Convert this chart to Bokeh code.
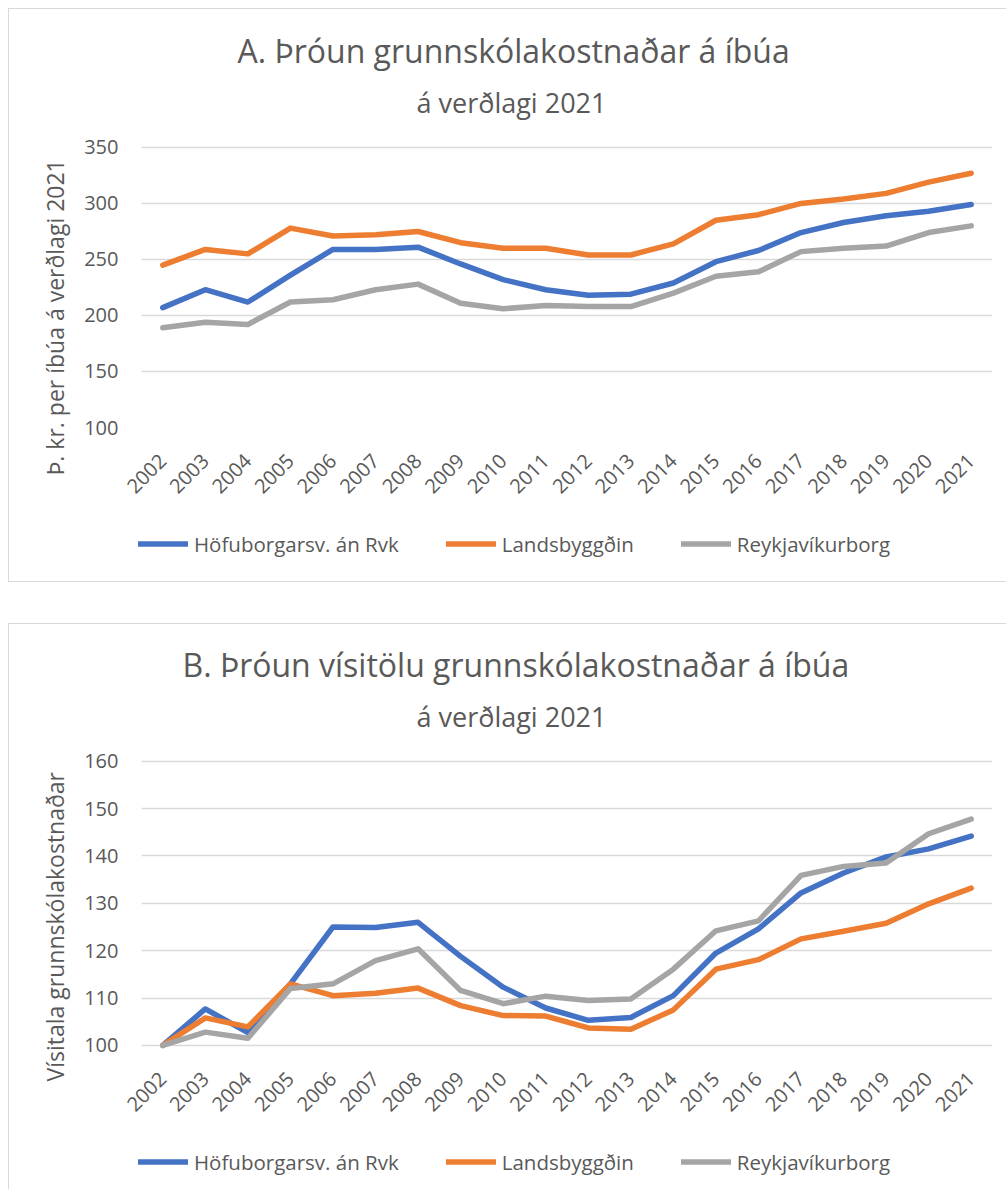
import math
from bokeh.plotting import figure
from bokeh.models import FactorRange, Range1d, FixedTicker, Legend, LegendItem, Title, Spacer
from bokeh.layouts import column
from bokeh.embed import file_html
from bokeh.resources import INLINE

years = [str(y) for y in range(2002, 2022)]
series_names = ["Höfuborgarsv. án Rvk", "Landsbyggðin", "Reykjavíkurborg"]
colors = ["#4472C4", "#ED7D31", "#A5A5A5"]

# Chart A: thousand kr per inhabitant, 2021 prices
a_hofuborg = [207, 223, 212, 236, 259, 259, 261, 246, 232, 223, 218, 219, 229, 248, 258, 274, 283, 289, 293, 299]
a_landsbyggd = [245, 259, 255, 278, 271, 272, 275, 265, 260, 260, 254, 254, 264, 285, 290, 300, 304, 309, 319, 327]
a_reykjavik = [189, 194, 192, 212, 214, 223, 228, 211, 206, 209, 208, 208, 220, 235, 239, 257, 260, 262, 274, 280]
a_ticks = [100, 150, 200, 250, 300, 350]

# Chart B: index, 2002 = 100
b_hofuborg = [100, 107.7, 102.7, 113.0, 125.0, 124.9, 126.0, 118.8, 112.3, 107.9, 105.3, 105.9, 110.5, 119.5, 124.6, 132.2, 136.4, 139.8, 141.5, 144.2]
b_landsbyggd = [100, 105.8, 103.9, 113.0, 110.5, 111.0, 112.1, 108.4, 106.3, 106.2, 103.7, 103.4, 107.5, 116.1, 118.1, 122.5, 124.1, 125.8, 129.9, 133.2]
b_reykjavik = [100, 102.8, 101.5, 112.0, 113.0, 117.9, 120.4, 111.6, 108.8, 110.4, 109.5, 109.8, 116.1, 124.2, 126.3, 135.9, 137.8, 138.5, 144.7, 147.8]
b_ticks = [100, 110, 120, 130, 140, 150, 160]

FONT = "Open Sans"
TXT = "#595959"
GRID = "#D9D9D9"
BORDER = "1px solid #D9D9D9"
LINE_W = 5.5


def make_chart(title, subtitle, ylabel, series, y0, y1, ticks, height,
               mb_top, mb_bottom, title_offset, sub_offset, x_standoff, ylabel_offset):
    p = figure(width=998, height=height,
               x_range=FactorRange(*years, range_padding=0),
               y_range=Range1d(y0, y1),
               output_backend="svg", toolbar_location=None,
               min_border_left=132, min_border_right=15,
               min_border_top=mb_top, min_border_bottom=mb_bottom,
               background_fill_color="white", border_fill_color="white")
    p.frame_align = False
    p.outline_line_color = None
    p.styles = {"border-top": BORDER, "border-left": BORDER}

    # titles (subtitle first: it sits closest to the frame)
    p.add_layout(Title(text=subtitle, align="left", offset=sub_offset,
                       text_font=FONT, text_font_size="27px",
                       text_font_style="normal", text_color=TXT, standoff=10), "above")
    p.add_layout(Title(text=title, align="left", offset=title_offset,
                       text_font=FONT, text_font_size="32px",
                       text_font_style="normal", text_color=TXT, standoff=10), "above")

    for vals, c in zip(series, colors):
        p.line(years, vals, line_color=c, line_width=LINE_W,
               line_cap="round", line_join="round")

    # axes
    p.xaxis.major_label_orientation = math.pi / 4
    p.xaxis.major_label_text_font = FONT
    p.xaxis.major_label_text_font_size = "20px"
    p.xaxis.major_label_text_color = TXT
    p.xaxis.major_tick_line_color = None
    p.xaxis.major_tick_out = 0
    p.xaxis.major_tick_in = 0
    p.xaxis.minor_tick_line_color = None
    p.xaxis.axis_line_color = None
    p.xaxis.major_label_standoff = x_standoff

    p.yaxis.ticker = FixedTicker(ticks=ticks)
    p.yaxis.major_label_text_font = FONT
    p.yaxis.major_label_text_font_size = "20px"
    p.yaxis.major_label_text_color = TXT
    p.yaxis.major_tick_line_color = None
    p.yaxis.major_tick_out = 0
    p.yaxis.major_tick_in = 0
    p.yaxis.minor_tick_line_color = None
    p.yaxis.axis_line_color = None
    p.yaxis.major_label_standoff = 23

    # y-axis title, placed along the axis like the original
    p.add_layout(Title(text=ylabel, align="left", offset=ylabel_offset,
                       text_font=FONT, text_font_size="23px",
                       text_font_style="normal", text_color=TXT, standoff=22), "left")

    p.xgrid.grid_line_color = None
    p.ygrid.ticker = FixedTicker(ticks=ticks)
    p.ygrid.grid_line_color = GRID
    p.ygrid.grid_line_width = 1.5
    return p


def make_legend_strip(height, legend_y, bottom_border=True):
    lf = figure(width=998, height=height, x_range=Range1d(0, 1), y_range=Range1d(0, 1),
                x_axis_type=None, y_axis_type=None,
                output_backend="svg", toolbar_location=None,
                min_border=0, min_border_left=0, min_border_right=0,
                min_border_top=0, min_border_bottom=0,
                background_fill_color="white", border_fill_color="white")
    lf.frame_align = False
    lf.outline_line_color = None
    styles = {"border-left": BORDER}
    if bottom_border:
        styles["border-bottom"] = BORDER
    lf.styles = styles
    items = []
    for n, c in zip(series_names, colors):
        # off-range stub renderer: only its legend glyph is visible
        r = lf.line(x=[-10, -9], y=[-10, -9], line_color=c, line_width=LINE_W, line_cap="round")
        items.append(LegendItem(label=n, renderers=[r]))
    legend = Legend(items=items, orientation="horizontal", location=(129, legend_y),
                    label_text_font=FONT, label_text_font_size="20.5px", label_text_color=TXT,
                    glyph_width=50, glyph_height=27, label_height=27, label_standoff=6,
                    spacing=47, padding=0, margin=0,
                    border_line_color=None, background_fill_alpha=0)
    lf.add_layout(legend, "center")
    return lf


pA = make_chart("A. Þróun grunnskólakostnaðar á íbúa", "á verðlagi 2021",
                "Þ. kr. per íbúa á verðlagi 2021",
                [a_hofuborg, a_landsbyggd, a_reykjavik], 100, 369.6, a_ticks,
                height=510, mb_top=116, mb_bottom=92, title_offset=96, sub_offset=275,
                x_standoff=30, ylabel_offset=-48)
lA = make_legend_strip(64, 24.5)

pB = make_chart("B. Þróun vísitölu grunnskólakostnaðar á íbúa", "á verðlagi 2021",
                "Vísitala grunnskólakostnaðar",
                [b_hofuborg, b_landsbyggd, b_reykjavik], 98.5, 164.6, b_ticks,
                height=502, mb_top=115, mb_bottom=74, title_offset=41, sub_offset=275,
                x_standoff=23, ylabel_offset=-29)
lB = make_legend_strip(64, 13.5, bottom_border=False)

layout = column(pA, lA, Spacer(height=41), pB, lB, margin=(8, 0, 0, 8))
open("out.html", "w").write(file_html(layout, INLINE))
